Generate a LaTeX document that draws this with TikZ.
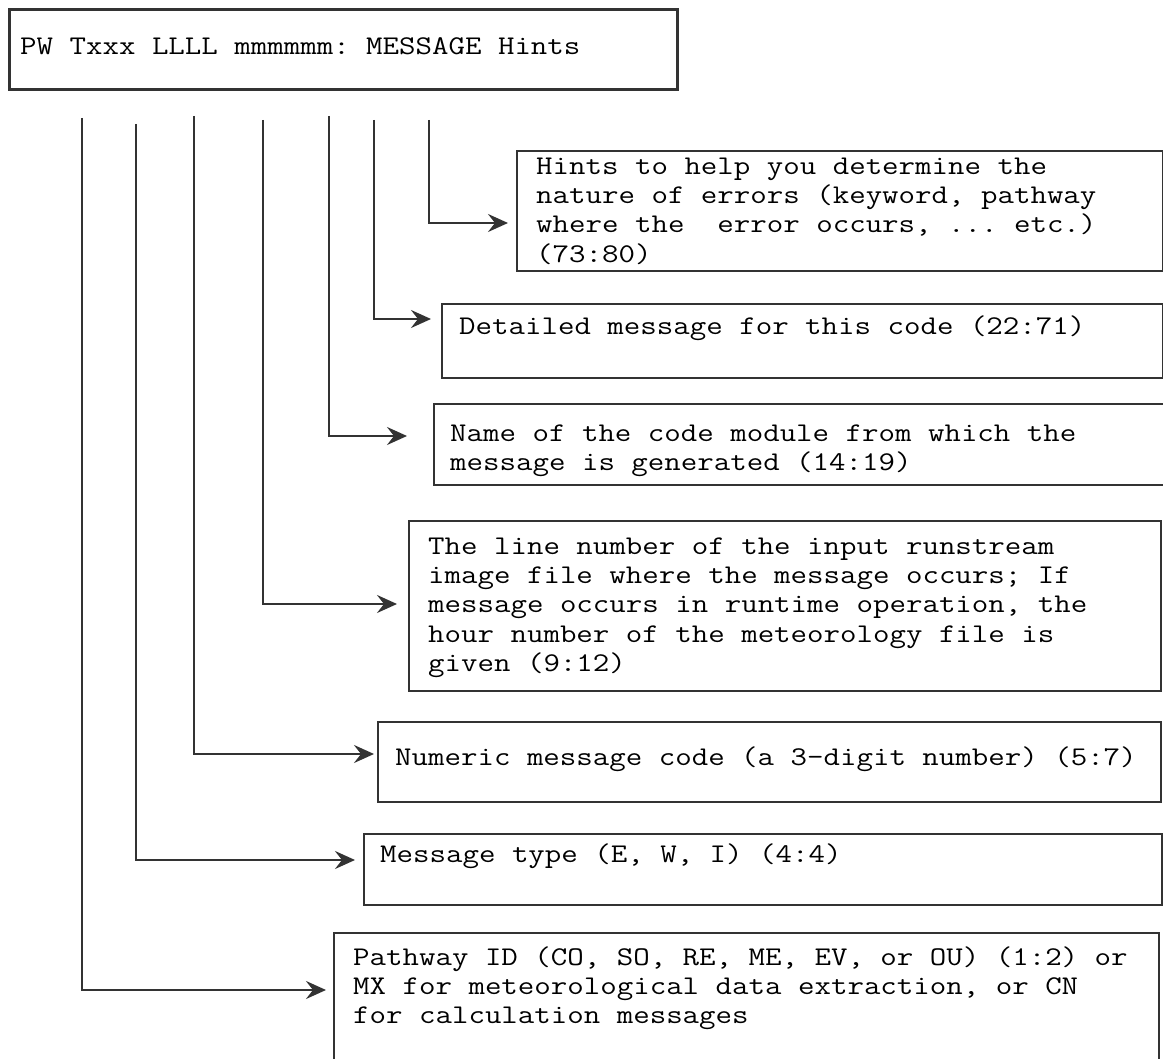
\documentclass[tikz,border=0pt]{standalone}
\usepackage{fontspec}
\setmonofont{Latin Modern Mono}[FakeStretch=1.185]
\usetikzlibrary{arrows.meta}

\newcommand{\lnup}{\rule{0pt}{24pt}}

\begin{document}
\begin{tikzpicture}[x=1pt, y=1pt,
    msgbox/.style={draw=black!80, line width=2.2pt, inner sep=0pt, anchor=north west},
    msgtext/.style={inner sep=0pt, anchor=north west, align=left,
                    font=\ttfamily\fontsize{27}{29.3}\selectfont},
    conn/.style={draw=black!80, line width=2.4pt,
                 -{Stealth[length=20pt, width=18pt, inset=7pt]}}]

  \useasboundingbox (0,0) rectangle (1163,-1059);

  % Header
  \node[msgbox, line width=3.4pt, minimum width=668pt, minimum height=80pt] (hdr) at (8,-8) {};
  \node[msgtext] (hdrT) at ([shift={(12,-22)}]hdr.north west) {\lnup PW Txxx LLLL mmmmmm: MESSAGE Hints};

  % Boxes
  \node[msgbox, minimum width=646pt, minimum height=120pt] (hints)   at (516,-150) {};
  \node[msgbox, minimum width=721pt, minimum height=74pt]  (detail)  at (441,-303) {};
  \node[msgbox, minimum width=740pt, minimum height=81pt]  (module)  at (433,-403) {};
  \node[msgbox, minimum width=752pt, minimum height=170pt] (lineno)  at (408,-520) {};
  \node[msgbox, minimum width=783pt, minimum height=80pt]  (numcode) at (377,-721) {};
  \node[msgbox, minimum width=798pt, minimum height=71pt]  (mtype)   at (363,-833) {};
  \node[msgbox, minimum width=825pt, minimum height=140pt] (pathway) at (333,-932) {};

  % Texts
  \node[msgtext] (hintsT) at ([shift={(20,0)}]hints.north west)
    {\lnup Hints to help you determine the\\nature of errors (keyword, pathway\\where the\ \ error occurs, ... etc.)\\(73:80)};
  \node[msgtext] (detailT) at ([shift={(18,-7)}]detail.north west)
    {\lnup Detailed message for this code (22:71)};
  \node[msgtext] (moduleT) at ([shift={(17,-14)}]module.north west)
    {\lnup Name of the code module from which the\\message is generated (14:19)};
  \node[msgtext] (linenoT) at ([shift={(20,-10)}]lineno.north west)
    {\lnup The line number of the input runstream\\image file where the message occurs; If\\message occurs in runtime operation, the\\hour number of the meteorology file is\\given (9:12)};
  \node[msgtext] (numcodeT) at ([shift={(18,-20)}]numcode.north west)
    {\lnup Numeric message code (a 3-digit number) (5:7)};
  \node[msgtext] (mtypeT) at ([shift={(17,-5)}]mtype.north west)
    {\lnup Message type (E, W, I) (4:4)};
  \node[msgtext] (pathwayT) at ([shift={(20,-9)}]pathway.north west)
    {\lnup Pathway ID (CO, SO, RE, ME, EV, or OU) (1:2) or\\MX for meteorological data extraction, or CN\\for calculation messages};

  % Field lines
  \coordinate (tPathway) at (82,-118);
  \coordinate (tType)    at (136,-124);
  \coordinate (tCode)    at (194,-116);
  \coordinate (tLine)    at (263,-120);
  \coordinate (tModule)  at (329,-116);
  \coordinate (tMsg)     at (374,-120);
  \coordinate (tHints)   at (429,-120);

  \draw[conn] (tHints)   |- ([shift={(-8,-73)}]hints.north west);
  \draw[conn] (tMsg)     |- ([shift={(-10,-16)}]detail.north west);
  \draw[conn] (tModule)  |- ([shift={(-26,-33)}]module.north west);
  \draw[conn] (tLine)    |- ([shift={(-11,-84)}]lineno.north west);
  \draw[conn] (tCode)    |- ([shift={(-3,-33)}]numcode.north west);
  \draw[conn] (tType)    |- ([shift={(-8,-27)}]mtype.north west);
  \draw[conn] (tPathway) |- ([shift={(-7,-58)}]pathway.north west);
\end{tikzpicture}
\end{document}
